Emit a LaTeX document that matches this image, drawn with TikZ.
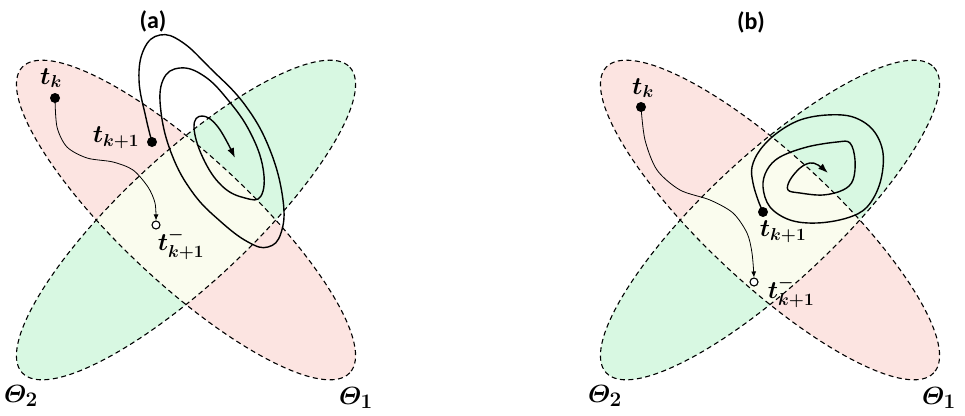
\documentclass[tikz,border=0pt]{standalone}
\usepackage{amsmath}
\usepackage[no-math]{fontspec}
\newfontfamily\panelfont{Carlito}
\usetikzlibrary{arrows.meta}
\definecolor{thetapink}{RGB}{252,228,225}
\definecolor{thetagreen}{RGB}{216,248,226}
\definecolor{thetaboth}{RGB}{250,252,238}
\begin{document}
\begin{tikzpicture}[x=1pt,y=-1pt,
  outline/.style={draw=black, dash pattern=on 5pt off 3.5pt, line width=1.1pt},
  dot/.style={circle, fill=black, inner sep=0pt, minimum size=10pt},
  hollow/.style={circle, draw=black, fill=white, line width=1.1pt, inner sep=0pt, minimum size=8pt},
  lbl/.style={font=\fontsize{25}{29}\selectfont, inner sep=0pt},
  thlbl/.style={font=\fontsize{29}{33}\selectfont, inner sep=0pt},
  panel/.style={font=\panelfont\bfseries\fontsize{24}{28}\selectfont, inner sep=0pt},
  spiral/.style={line width=1.4pt, -{Latex[length=10pt,width=7pt]}},
  drift/.style={line width=0.8pt, -{Latex[length=6pt,width=5pt]}}]
\useasboundingbox (0,0) rectangle (965,415);

% the two regions Theta_1 and Theta_2 in each panel
\foreach \cx in {186,770} {
  \fill[thetapink, rotate around={-43:(\cx,220)}] (\cx,220) ellipse [x radius=224, y radius=64];
  \fill[thetagreen, rotate around={43:(\cx,220)}] (\cx,220) ellipse [x radius=224, y radius=64];
  \begin{scope}
    \clip[rotate around={-43:(\cx,220)}] (\cx,220) ellipse [x radius=224, y radius=64];
    \fill[thetaboth, rotate around={43:(\cx,220)}] (\cx,220) ellipse [x radius=224, y radius=64];
  \end{scope}
  \draw[outline, rotate around={-43:(\cx,220)}] (\cx,220) ellipse [x radius=224, y radius=64];
  \draw[outline, rotate around={43:(\cx,220)}] (\cx,220) ellipse [x radius=224, y radius=64];
}

% panel (a)
\node[panel] (pa) at (153,21) {(a)};
\node[dot] (tka) at (55,98) {};
\node[lbl] (tkalbl) at (51,78) {$\boldsymbol{t_k}$};
\node[dot] (tkonea) at (152,142) {};
\node[lbl] (tkonealbl) at (116,138) {$\boldsymbol{t_{k+1}}$};
\node[hollow] (tkmina) at (156,225) {};
\node[lbl] (tkminalbl) at (181,244) {$\boldsymbol{t^{-}_{k+1}}$};
\node[thlbl] (thtwoa) at (21,396) {$\boldsymbol{\varTheta_2}$};
\node[thlbl] (thonea) at (356,398) {$\boldsymbol{\varTheta_1}$};
\draw[drift] plot[smooth] coordinates {(tka) (57,127) (67,147) (87,158) (113,162) (133,170) (148,187) (155,203) (tkmina.north)};
\draw[spiral] plot[smooth, tension=0.7] coordinates {(tkonea) (146,118) (139,80) (144,49) (160,35) (182,42) (210,68) (245,105) (270,150) (283,200) (281,233) (268,247) (248,242) (220,221) (193,193) (172,155) (161,112) (163,80) (180,68) (204,76) (228,100) (250,132) (263,168) (261,196) (245,198) (222,186) (203,158) (194,127) (202,116) (218,127) (235,158)};

% panel (b)
\node[panel] (pb) at (751,22) {(b)};
\node[dot] (tkb) at (641,107) {};
\node[lbl] (tkblbl) at (643,88) {$\boldsymbol{t_k}$};
\node[dot] (tkoneb) at (763,212) {};
\node[lbl] (tkoneblbl) at (783,232) {$\boldsymbol{t_{k+1}}$};
\node[hollow] (tkminb) at (754,282) {};
\node[lbl] (tkminblbl) at (791,292) {$\boldsymbol{t^{-}_{k+1}}$};
\node[thlbl] (thtwob) at (605,396) {$\boldsymbol{\varTheta_2}$};
\node[thlbl] (thoneb) at (939,398) {$\boldsymbol{\varTheta_1}$};
\draw[drift] plot[smooth] coordinates {(tkb) (645,140) (657,170) (680,190) (710,200) (733,213) (747,233) (752,253) (tkminb.north)};
\draw[spiral] plot[smooth, tension=0.6] coordinates {(tkoneb) (758,200) (753,183) (752,167) (760,150) (777,133) (800,120) (827,115) (853,117) (873,130) (883,153) (880,183) (867,207) (847,218) (817,223) (790,220) (770,207) (763,187) (767,170) (780,157) (807,147) (837,142) (850,143) (855,160) (853,180) (843,190) (823,195) (800,193) (788,190) (790,180) (800,168) (810,163) (818,165) (828,173)};
\end{tikzpicture}
\end{document}
